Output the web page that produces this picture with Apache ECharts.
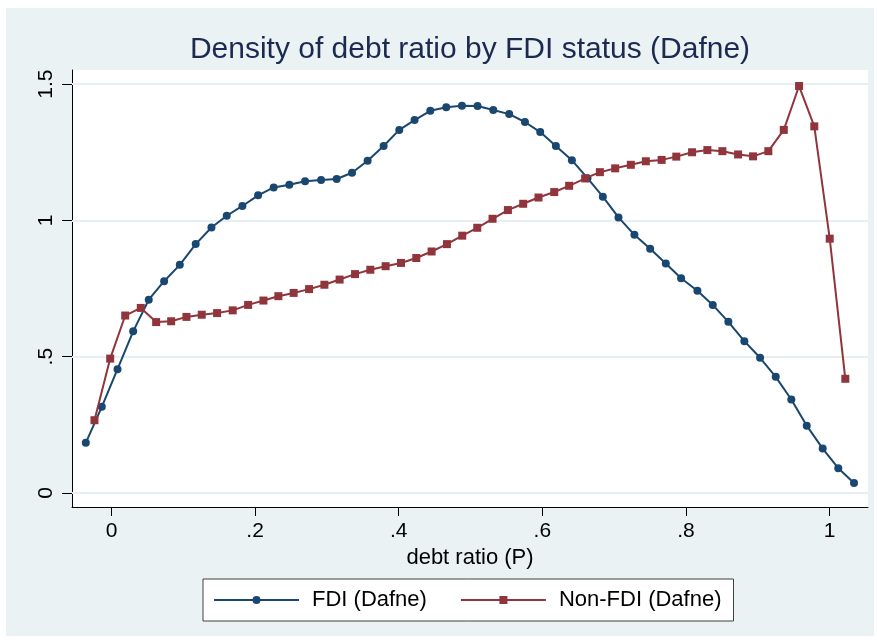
<!DOCTYPE html>
<html>
<head>
<meta charset="utf-8">
<title>Density of debt ratio by FDI status (Dafne)</title>
<script src="https://cdn.jsdelivr.net/npm/echarts@6/dist/echarts.min.js"></script>
<style>
    html, body { margin: 0; padding: 0; background: #fff; }
    #main { width: 877px; height: 642px; }
</style>
</head>
<body>
<div id="main"></div>
<script>
// density points
let fdiX = [-0.0358, -0.0135, 0.0084, 0.0302, 0.0519, 0.0733, 0.0951, 0.1173, 0.1392, 0.1605,
            0.1823, 0.2042, 0.2259, 0.2477, 0.2696, 0.2919, 0.3136, 0.3350, 0.3567, 0.3790,
            0.4008, 0.4221, 0.4440, 0.4662, 0.4881, 0.5098, 0.5317, 0.5539, 0.5758, 0.5971,
            0.6189, 0.6412, 0.6629, 0.6843, 0.7061, 0.7283, 0.7502, 0.7720, 0.7933, 0.8160,
            0.8374, 0.8591, 0.8814, 0.9033, 0.9251, 0.9468, 0.9683, 0.9905, 1.0122, 1.0341];
let fdiY = [0.184, 0.316, 0.454, 0.593, 0.709, 0.777, 0.837, 0.913, 0.974, 1.017,
            1.053, 1.092, 1.121, 1.131, 1.144, 1.148, 1.152, 1.175, 1.219, 1.273,
            1.332, 1.368, 1.402, 1.415, 1.421, 1.420, 1.405, 1.390, 1.361, 1.324,
            1.273, 1.221, 1.155, 1.087, 1.011, 0.947, 0.896, 0.842, 0.788, 0.742,
            0.690, 0.628, 0.557, 0.496, 0.426, 0.343, 0.247, 0.163, 0.091, 0.037];

let nonX = [-0.0237, -0.0018, 0.0191, 0.0408, 0.0622, 0.0831, 0.1044, 0.1257, 0.1471, 0.1688,
            0.1903, 0.2116, 0.2324, 0.2537, 0.2752, 0.2965, 0.3177, 0.3392, 0.3605, 0.3818,
            0.4032, 0.4245, 0.4458, 0.4672, 0.4885, 0.5094, 0.5307, 0.5521, 0.5734, 0.5947,
            0.6166, 0.6374, 0.6597, 0.6802, 0.7015, 0.7233, 0.7442, 0.7662, 0.7866, 0.8086,
            0.8299, 0.8508, 0.8727, 0.8935, 0.9148, 0.9363, 0.9576, 0.9788, 1.0003, 1.0220];
let nonY = [0.267, 0.493, 0.651, 0.679, 0.627, 0.630, 0.646, 0.654, 0.660, 0.670,
            0.690, 0.706, 0.722, 0.734, 0.748, 0.764, 0.783, 0.803, 0.819, 0.832,
            0.844, 0.862, 0.886, 0.913, 0.944, 0.973, 1.006, 1.038, 1.061, 1.084,
            1.104, 1.127, 1.154, 1.177, 1.191, 1.204, 1.217, 1.222, 1.234, 1.250,
            1.258, 1.254, 1.242, 1.235, 1.254, 1.332, 1.493, 1.345, 0.933, 0.419];

let xTicks = [0, 0.2, 0.4, 0.6, 0.8, 1];
let yTicks = [0, 0.5, 1, 1.5];

// Stata style labels: .2 instead of 0.2
function tickText(v){
    return v === 0 ? "0" : String(v).replace(/^0\./, ".");
}
function pairs(xs, ys){
    return xs.map((x, i) => [x, ys[i]]);
}

var myChart = echarts.init(document.getElementById('main'));
myChart.setOption({
    animation:false,
    backgroundColor:"#fff",
    textStyle:{
        fontFamily:"'Liberation Sans', Arial, sans-serif"
    },
    // graph region
    graphic:[{
        type:"rect",
        z:-10,
        silent:true,
        shape:{x:6, y:8, width:868, height:628},
        style:{fill:"#eaf2f3"}
    }],
    title:{
        text:"Density of debt ratio by FDI status (Dafne)",
        left:470,
        top:35,
        padding:0,
        textAlign:"center",
        textStyle:{
            fontSize:30,
            fontWeight:"normal",
            color:"#1c2a52"
        }
    },
    grid:{
        left:72,
        right:9,
        top:70,
        bottom:135,
        show:true,
        backgroundColor:"#fff",
        borderWidth:0
    },
    legend:{
        data:["FDI (Dafne)", "Non-FDI (Dafne)"],
        left:203,
        top:579,
        padding:[10, 12, 10, 10],
        itemGap:33,
        itemWidth:85,
        itemHeight:10,
        backgroundColor:"#fff",
        borderColor:"#404040",
        borderWidth:1,
        borderRadius:0,
        textStyle:{
            fontSize:22,
            color:"#000",
            padding:[0, 0, 0, 8]
        }
    },
    xAxis:{
        type:"value",
        min:-0.055,
        max:1.0536,
        name:"debt ratio (P)",
        nameLocation:"middle",
        nameGap:36,
        nameTextStyle:{fontSize:22, color:"#000"},
        axisLine:{show:true, onZero:false, lineStyle:{color:"#000", width:1}},
        axisTick:{show:true, customValues:xTicks, length:9, lineStyle:{color:"#000"}},
        axisLabel:{customValues:xTicks, formatter:tickText, fontSize:21, color:"#000", margin:14},
        splitLine:{show:false}
    },
    yAxis:{
        type:"value",
        min:-0.0514,
        max:1.5518,
        axisLine:{show:true, onZero:false, lineStyle:{color:"#000", width:1}},
        axisTick:{show:true, customValues:yTicks, length:10, lineStyle:{color:"#000"}},
        axisLabel:{customValues:yTicks, formatter:tickText, rotate:90, fontSize:21, color:"#000", margin:15},
        splitLine:{show:false}
    },
    series:[
        {
            // grid lines at the y ticks, kept under the curves
            name:"grid",
            type:"line",
            data:[],
            z:1,
            markLine:{
                z:1,
                silent:true,
                symbol:["none", "none"],
                label:{show:false},
                lineStyle:{color:"#e6eff1", width:2, type:"solid"},
                emphasis:{disabled:true},
                data:yTicks.map(v => ({yAxis:v}))
            }
        },
        {
            name:"FDI (Dafne)",
            type:"line",
            z:2,
            data:pairs(fdiX, fdiY),
            symbol:"circle",
            symbolSize:8,
            color:"#1a476f",
            lineStyle:{width:2, color:"#1a476f"},
            itemStyle:{color:"#1a476f"},
            emphasis:{disabled:true}
        },
        {
            name:"Non-FDI (Dafne)",
            type:"line",
            z:3,
            data:pairs(nonX, nonY),
            symbol:"rect",
            symbolSize:8,
            color:"#90353b",
            lineStyle:{width:2, color:"#90353b"},
            itemStyle:{color:"#90353b"},
            emphasis:{disabled:true}
        }
    ]
});
</script>
</body>
</html>
